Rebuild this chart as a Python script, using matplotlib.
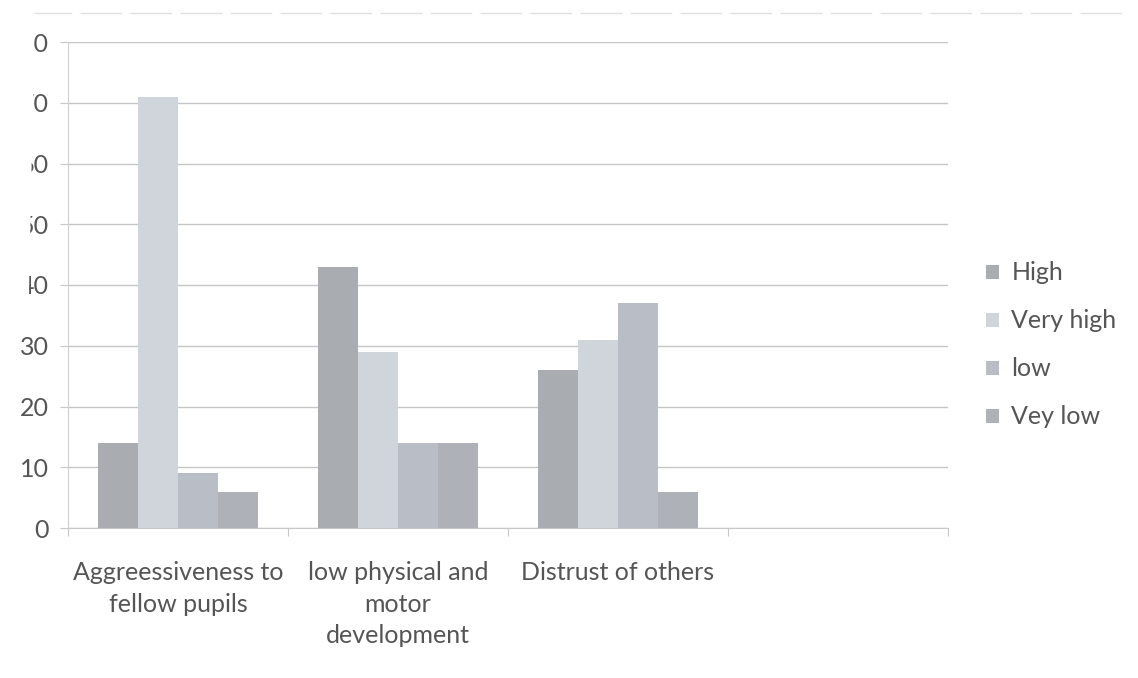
import numpy as np
import matplotlib as mpl; mpl.use("Agg")
import matplotlib.pyplot as plt
from matplotlib.patches import Polygon

# grouped bar data (percent of pupils per rating)
CATEGORIES = ["Aggreessiveness to\nfellow pupils", "low physical and\nmotor\ndevelopment",
              "Distrust of others", ""]
SERIES = ["High", "Very high", "low", "Vey low"]
HIGH = [14, 43, 26]
VERY_HIGH = [71, 29, 31]
LOW = [9, 14, 37]
VEY_LOW = [6, 14, 6]
YTICKS = [0, 10, 20, 30, 40, 50, 60, 70, 80]

COLORS = ["#a9acb1", "#d0d4db", "#b9bdc5", "#aeb1b7"]
TXT = "#555555"
FS = 18

mpl.rcParams.update({"font.family": ["Lato", "DejaVu Sans"], "font.size": FS})

W, H = 1138, 678
fig = plt.figure(figsize=(W / 100, H / 100), dpi=100)
fig.patch.set_facecolor("white")
ax = fig.add_axes([68 / W, 1 - 528 / H, 880 / W, 486 / H])

n_slots = len(CATEGORIES)
x = np.arange(n_slots)
bw = 40 / 220
vals = [HIGH, VERY_HIGH, LOW, VEY_LOW]
for i, (name, v) in enumerate(zip(SERIES, vals)):
    xs = x[:len(v)] + (i - 1.5) * bw
    ax.bar(xs, v, width=bw, color=COLORS[i], label=name, zorder=3, linewidth=0)

ax.set_xlim(-0.5, n_slots - 0.5)
ax.set_ylim(0, 80)
ax.set_yticks(YTICKS)
ax.yaxis.grid(True, color="#c4c6c9", lw=1.0, zorder=0)
ax.set_axisbelow(True)
ax.tick_params(axis="y", length=6, color="#c8c8c8", labelcolor=TXT, labelsize=FS, pad=8)

# category ticks sit between the slots, labels in the slot centres
ax.set_xticks(np.arange(-0.5, n_slots, 1.0))
ax.set_xticklabels([])
ax.set_xticks(x, minor=True)
ax.set_xticklabels(CATEGORIES, minor=True, linespacing=1.45)
ax.tick_params(axis="x", which="major", length=6, color="#c8c8c8", direction="out")
ax.tick_params(axis="x", which="minor", length=0, labelcolor=TXT, labelsize=FS, pad=24)

for s in ["top", "right"]:
    ax.spines[s].set_visible(False)
ax.spines["left"].set_color("#cfd0d2")
ax.spines["bottom"].set_color("#c8c8c8")

leg = ax.legend(loc="center left", bbox_to_anchor=((964 - 68) / 880, (528 - 345) / 486),
                bbox_transform=ax.transAxes, frameon=False, fontsize=FS,
                handlelength=0.5, handleheight=0.5, handletextpad=0.5, labelspacing=1.0,
                labelcolor=TXT)

# faint border line along the top of the page
fig.add_artist(plt.Line2D([30 / W, 0.99], [1 - 13 / H, 1 - 13 / H], color="#e0e0e0", lw=1.0,
                          ls=(0, (30, 6)), transform=fig.transFigure))

# cropped left margin of the page
fig.add_artist(Polygon([[0, 1], [35 / W, 1], [29 / W, 1 - 290 / H], [0, 1 - 290 / H]],
                       closed=True, transform=fig.transFigure, facecolor="white", edgecolor="none",
                       zorder=10))

fig.savefig("out.png", dpi=100)
